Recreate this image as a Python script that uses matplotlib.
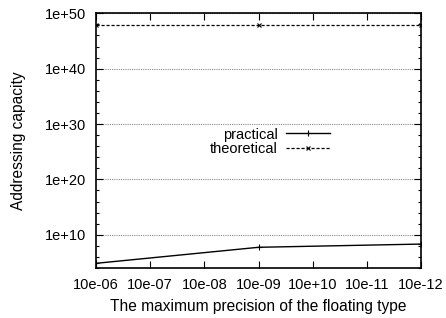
import matplotlib
matplotlib.use("Agg")
import matplotlib.pyplot as plt
from matplotlib.ticker import FixedLocator, NullFormatter

plt.rcParams['font.family'] = ['Liberation Sans', 'DejaVu Sans']

# Data
precision_ticks = [1e-5, 1e-6, 1e-7, 1e-8, 1e-9, 1e-10, 1e-11]
tick_labels = ["10e-06", "10e-07", "10e-08", "10e-09", "10e+10", "10e-11", "10e-12"]
precision = [1e-5, 1e-8, 1e-11]
practical = [7e4, 5.5e7, 2.1e8]
theoretical = [7e47, 7e47, 7e47]

fig = plt.figure(figsize=(4.46, 3.18), dpi=100)
ax = fig.add_axes([96/446, 1-268/318, (421-96)/446, (268-13.3)/318])

ax.plot(precision, practical, color='black', lw=1.0, marker='+', ms=5, mew=0.8,
        label='practical')
ax.plot(precision, theoretical, color='black', lw=0.9, ls=(0, (2.5, 1.5)), marker='x',
        ms=3.5, mew=0.8, label='theoretical')

ax.set_xscale('log')
ax.set_yscale('log')
ax.set_xlim(1e-5, 1e-11)
ax.set_ylim(1e4, 1e50)

ax.xaxis.set_major_locator(FixedLocator(precision_ticks))
ax.set_xticklabels(tick_labels)
ax.xaxis.set_minor_locator(FixedLocator([]))

yt = [1e10, 1e20, 1e30, 1e40, 1e50]
ax.yaxis.set_major_locator(FixedLocator(yt))
ax.set_yticklabels(["1e+10", "1e+20", "1e+30", "1e+40", "1e+50"])
ax.yaxis.set_minor_locator(FixedLocator([10.0**k for k in range(4, 51, 2) if k % 10 != 0]))
ax.yaxis.set_minor_formatter(NullFormatter())

ax.tick_params(which='both', direction='in', top=True, right=True, labelsize=10.5,
               color='black', width=0.8)
ax.tick_params(which='major', length=5, pad=7)
ax.tick_params(which='minor', length=2.5)

for sp in ax.spines.values():
    sp.set_linewidth(1.2)

ax.grid(True, axis='y', which='major', color='#888888', ls=(0, (1, 1)), lw=0.8)

ax.set_xlabel("The maximum precision of the floating type", fontsize=11.2, labelpad=5)
ax.set_ylabel("Addressing capacity", fontsize=11.2, labelpad=14)

leg = ax.legend(loc='upper right', bbox_to_anchor=(0.742, 0.58), frameon=False,
                markerfirst=False, fontsize=10.5, handlelength=3.0,
                handletextpad=0.55, labelspacing=0.05, borderpad=0)

fig.savefig("out.png", dpi=100)
